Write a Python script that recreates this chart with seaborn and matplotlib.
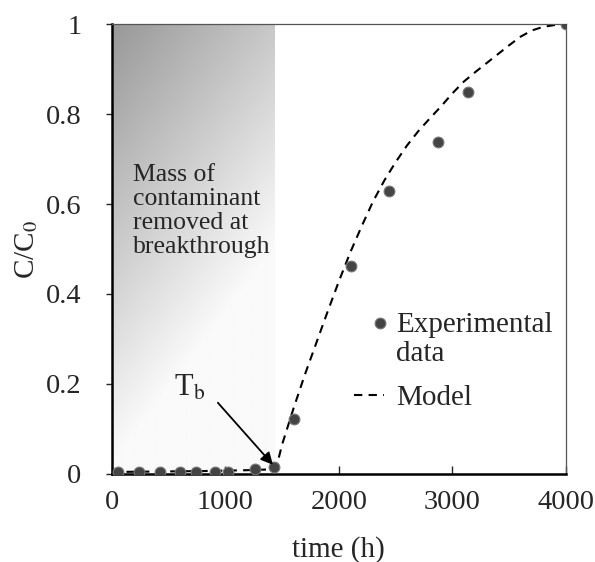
import numpy as np
import pandas as pd
import matplotlib
matplotlib.use("Agg")
import matplotlib.pyplot as plt
import seaborn as sns
from matplotlib.legend_handler import HandlerPathCollection

# experimental breakthrough data
exp_time = [53, 238, 423, 599, 740, 907, 1022, 1260, 1427, 1604, 2106, 2441, 2872, 3137, 4000]
exp_conc = [0.004, 0.004, 0.004, 0.004, 0.004, 0.004, 0.004, 0.011, 0.015, 0.122, 0.462, 0.629, 0.738, 0.849, 1.0]

# model curve
model_time = [0, 400, 800, 1200, 1430, 1460, 1500, 1550, 1600, 1700, 1800, 1900, 2000, 2100,
              2200, 2300, 2400, 2500, 2600, 2700, 2800, 2900, 3000, 3100, 3200, 3300, 3400,
              3500, 3600, 3700, 3800, 3900, 4000]
model_conc = [0.004, 0.005, 0.006, 0.008, 0.010, 0.025, 0.065, 0.105, 0.145, 0.220, 0.290, 0.360,
              0.428, 0.492, 0.550, 0.605, 0.652, 0.693, 0.730, 0.762, 0.790, 0.817, 0.846, 0.872,
              0.893, 0.913, 0.933, 0.953, 0.972, 0.986, 0.994, 0.998, 1.0]

t_break = 1430
x_ticks = [0, 1000, 2000, 3000, 4000]
y_ticks = [0, 0.2, 0.4, 0.6, 0.8, 1]
y_tick_labels = ["0", "0.2", "0.4", "0.6", "0.8", "1"]

df_exp = pd.DataFrame({"time": exp_time, "conc": exp_conc})
df_model = pd.DataFrame({"time": model_time, "conc": model_conc})


class RightMarker(HandlerPathCollection):
    # put the legend dot near the text, like the original
    def get_xdata(self, legend, xdescent, ydescent, width, height, fontsize):
        xd = [-xdescent + 0.85 * width]
        return xd, xd


sns.set_style("white")
plt.rcParams["font.family"] = ["Liberation Serif", "DejaVu Serif"]
plt.rcParams["mathtext.fontset"] = "stix"

fig = plt.figure(figsize=(5.95, 5.62), dpi=100)
ax = fig.add_axes([0.188, 0.157, 0.763, 0.800])

# grey gradient for mass removed before breakthrough
u = np.linspace(0, 1, 200)
v = np.linspace(0, 1, 300)
U, V = np.meshgrid(u, v)
grey = np.clip(152 + 48 * U + 100 * V, 0, 250) / 255.0
ax.imshow(grey, cmap="gray", vmin=0, vmax=1, extent=[0, t_break, 0, 1],
          origin="upper", aspect="auto", zorder=0, interpolation="bilinear")

sns.lineplot(data=df_model, x="time", y="conc", ax=ax, color="black",
             linestyle=(0, (4, 3)), linewidth=1.5, label="Model", zorder=2)
sns.scatterplot(data=df_exp, x="time", y="conc", ax=ax, color="#444444",
                edgecolor="#777777", linewidth=0.8, s=60, zorder=3,
                label="Experimental\ndata")

ax.set_xlim(0, 4000)
ax.set_ylim(0, 1)
ax.set_xticks(x_ticks)
ax.set_yticks(y_ticks)
ax.set_yticklabels(y_tick_labels)
ax.tick_params(axis="x", direction="in", length=6, width=1, pad=12, labelsize=20.5, bottom=True)
ax.tick_params(axis="y", direction="out", length=4, width=1, pad=18, labelsize=20.5, left=True)
ax.set_xlabel("time (h)", fontsize=21, labelpad=15)
ax.set_ylabel("C/C$_0$", fontsize=21, labelpad=4)

for side in ["left", "bottom"]:
    ax.spines[side].set_color("black")
    ax.spines[side].set_linewidth(1.8)
for side in ["top", "right"]:
    ax.spines[side].set_color("#555555")
    ax.spines[side].set_linewidth(0.9)

ax.text(185, 0.69, "Mass of\ncontaminant\nremoved at\nbreakthrough", fontsize=18.5,
        va="top", ha="left", linespacing=1.12)

ax.text(687, 0.19, "T$_\\mathrm{b}$", fontsize=22, ha="center", va="center")
ax.annotate("", xy=(1419, 0.02), xytext=(934, 0.158),
            arrowprops=dict(arrowstyle="-|>", color="black", lw=1.3,
                            mutation_scale=18, shrinkA=0, shrinkB=0))

handles, labels = ax.get_legend_handles_labels()
leg = ax.legend(handles[::-1], labels[::-1], loc="lower right", bbox_to_anchor=(1.009, 0.10),
                frameon=False, fontsize=21, handlelength=1.05, handletextpad=0.4,
                labelspacing=0.6, borderaxespad=0.2, scatteryoffsets=[1.3],
                handler_map={type(handles[-1]): RightMarker()})
for t in leg.get_texts():
    t.set_linespacing(1.15)

fig.savefig("out.png", dpi=100)
